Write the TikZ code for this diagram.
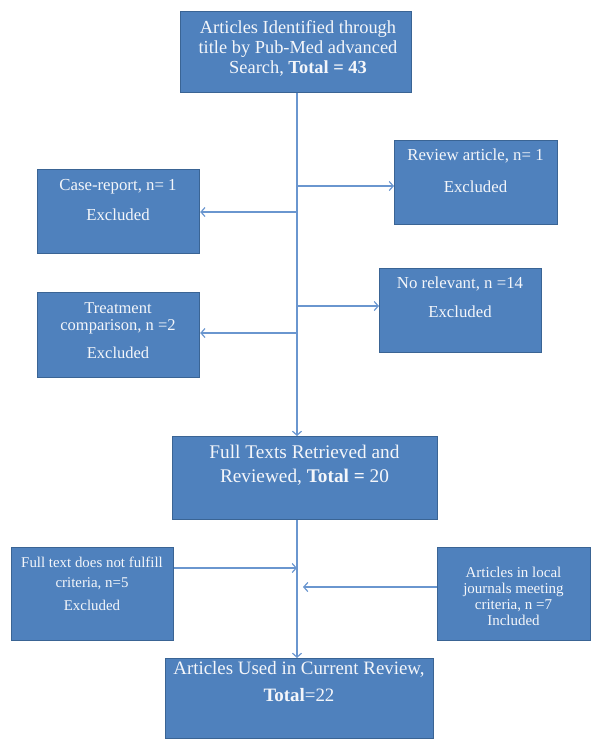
\documentclass[tikz,border=0pt]{standalone}
\usepackage{fontspec}
\setmainfont{Liberation Serif}
\usetikzlibrary{arrows.meta}
\definecolor{boxfill}{HTML}{4F81BD}
\definecolor{boxborder}{HTML}{3A6494}
\definecolor{linkblue}{HTML}{6A96CF}
\definecolor{txtcol}{HTML}{F4F6FA}
\tikzset{
  box/.style={draw=boxborder, fill=boxfill, line width=1.2pt, inner sep=0pt, anchor=north west},
  txt/.style={text=txtcol, align=center, inner sep=0pt},
  link/.style={draw=linkblue, line width=1.2pt},
  arr/.style={link, -{Straight Barb[length=4pt,width=9pt,line width=1.2pt]}},
}
\begin{document}
\begin{tikzpicture}[x=1pt,y=-1pt]
\useasboundingbox (0,0) rectangle (597,740);
% boxes
\node[box, minimum width=231pt, minimum height=81pt] (top) at (180,11) {};
\node[box, minimum width=162pt, minimum height=84pt] (case) at (37,169) {};
\node[box, minimum width=163pt, minimum height=84pt] (review) at (394,140) {};
\node[box, minimum width=162pt, minimum height=85pt] (treat) at (37,292) {};
\node[box, minimum width=162pt, minimum height=84pt] (norel) at (379,268) {};
\node[box, minimum width=265pt, minimum height=83pt] (full) at (172,436) {};
\node[box, minimum width=162pt, minimum height=93pt] (notful) at (11,547) {};
\node[box, minimum width=153pt, minimum height=93pt] (local) at (437,547) {};
\node[box, minimum width=268pt, minimum height=80pt] (final) at (165,658) {};
% texts
\node[txt, font=\fontsize{18.4}{20}\selectfont] (ttop) at (298,48)
  {Articles Identified through\\title by Pub-Med advanced\\Search, \textbf{Total = 43}};
\node[txt, font=\fontsize{16.8}{19}\selectfont] (tcase) at (118,200)
  {Case-report, n= 1\\[11pt]Excluded};
\node[txt, font=\fontsize{16.8}{19}\selectfont] (treview) at (475.5,171)
  {Review article, n= 1\\[13pt]Excluded};
\node[txt, font=\fontsize{16.5}{17.5}\selectfont] (ttreat) at (118,330.5)
  {Treatment\\comparison, n =2\\[10.5pt]Excluded};
\node[txt, font=\fontsize{16.8}{19}\selectfont] (tnorel) at (460,297.5)
  {No relevant, n =14\\[10pt]Excluded};
\node[txt, font=\fontsize{19.3}{24}\selectfont] (tfull) at (304.5,465)
  {Full Texts Retrieved and\\Reviewed, \textbf{Total =} 20};
\node[txt, font=\fontsize{14.9}{20}\selectfont] (tnotful) at (92,583.5)
  {Full text does not fulfill\\criteria, n=5\\[3pt]Excluded};
\node[txt, font=\fontsize{15}{16}\selectfont] (tlocal) at (513.5,596)
  {Articles in local\\journals meeting\\criteria, n =7\\Included};
\node[txt, font=\fontsize{18.9}{27}\selectfont] (tfinal) at (299,681.5)
  {Articles Used in Current Review,\\\textbf{Total}=22};
% junction coordinates on the main line
\coordinate (jreview) at (297,186);
\coordinate (jcase) at (297,212);
\coordinate (jnorel) at (297,306);
\coordinate (jtreat) at (297,333);
\coordinate (jnotful) at (297,568);
\coordinate (jlocal) at (303,587);
% connectors
\draw[arr] (top.south -| jcase) -- (full.north -| jcase);
\draw[arr] (jreview) -- (review.west |- jreview);
\draw[arr] (jcase) -- (case.east |- jcase);
\draw[arr] (jnorel) -- (norel.west |- jnorel);
\draw[arr] (jtreat) -- (treat.east |- jtreat);
\draw[arr] (full.south -| jcase) -- (final.north -| jcase);
\draw[arr] (notful.east |- jnotful) -- (jnotful);
\draw[arr] (local.west |- jlocal) -- (jlocal);
\end{tikzpicture}
\end{document}
